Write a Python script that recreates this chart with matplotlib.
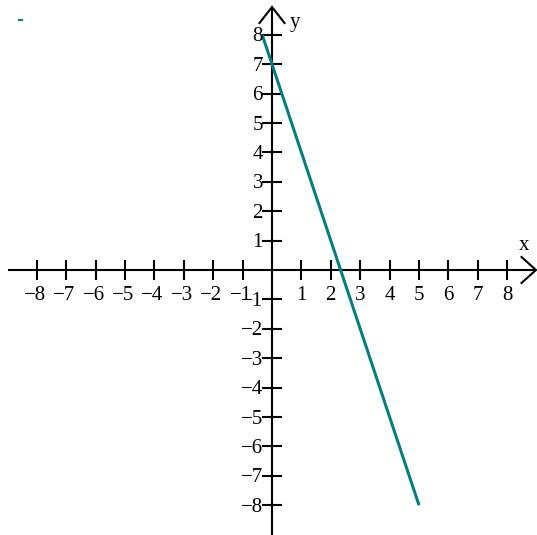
import matplotlib
matplotlib.use("Agg")
import matplotlib.pyplot as plt
from matplotlib.lines import Line2D

# ---- data ----
x_ticks = [-8, -7, -6, -5, -4, -3, -2, -1, 1, 2, 3, 4, 5, 6, 7, 8]
y_ticks = [-8, -7, -6, -5, -4, -3, -2, -1, 1, 2, 3, 4, 5, 6, 7, 8]
line_x = [-1 / 3, 5]
line_y = [8, -8]

# ---- layout (pixels) ----
W, H = 537, 535
ox, oy = 272, 270          # origin pixel
unit = 29.4                # pixels per unit
px = 1.0 / unit            # one pixel in data units

fig = plt.figure(figsize=(W / 100, H / 100), dpi=100)
ax = fig.add_axes([0, 0, 1, 1])
ax.set_xlim(-ox / unit, (W - ox) / unit)
ax.set_ylim(-(H - oy) / unit, oy / unit)
ax.axis("off")

lw = 1.5
xmin, xmax = ax.get_xlim()
ymin, ymax = ax.get_ylim()

# axes lines
ax.plot([xmin + 8 * px, xmax - 1 * px], [0, 0], color="black", lw=lw, solid_capstyle="butt")
ax.plot([0, 0], [ymin, ymax - 7 * px], color="black", lw=lw, solid_capstyle="butt")

# arrow heads
tipx = xmax - 1 * px
ax.plot([tipx - 14.5 * px, tipx, tipx - 14.5 * px], [13 * px, 0, -13 * px],
        color="black", lw=lw, solid_joinstyle="miter")
tipy = ymax - 7 * px
ax.plot([-12.5 * px, 0, 12.5 * px], [tipy - 16 * px, tipy, tipy - 16 * px],
        color="black", lw=lw, solid_joinstyle="miter")

font = dict(family="Liberation Serif", fontsize=15)

def lab(v):
    return ("\u2212" + str(-v)) if v < 0 else str(v)

tl = 10 * px
for v in x_ticks:
    ax.plot([v, v], [-tl, tl], color="black", lw=lw, solid_capstyle="butt")
    ax.text(v - (2 * px if v < 0 else 0), -25 * px, lab(v), ha="center", va="center", **font)
for v in y_ticks:
    ax.plot([-tl, tl], [v, v], color="black", lw=lw, solid_capstyle="butt")
    ax.text(-9 * px, v - 2 * px, lab(v), ha="right", va="center", **font)

ax.text(xmax - 13 * px, 25 * px, "x", ha="center", va="center", **font)
ax.text(23 * px, ymax - 22 * px, "y", ha="center", va="center", **font)

# the line
ax.plot(line_x, line_y, color="#008080", lw=2.2, solid_capstyle="butt")

# tiny teal mark in the corner
fig.add_artist(Line2D([19 / W, 22 / W], [1 - 20 / H, 1 - 20 / H], color="#008080", lw=1.5,
                      transform=fig.transFigure))

fig.savefig("out.png", dpi=100)
